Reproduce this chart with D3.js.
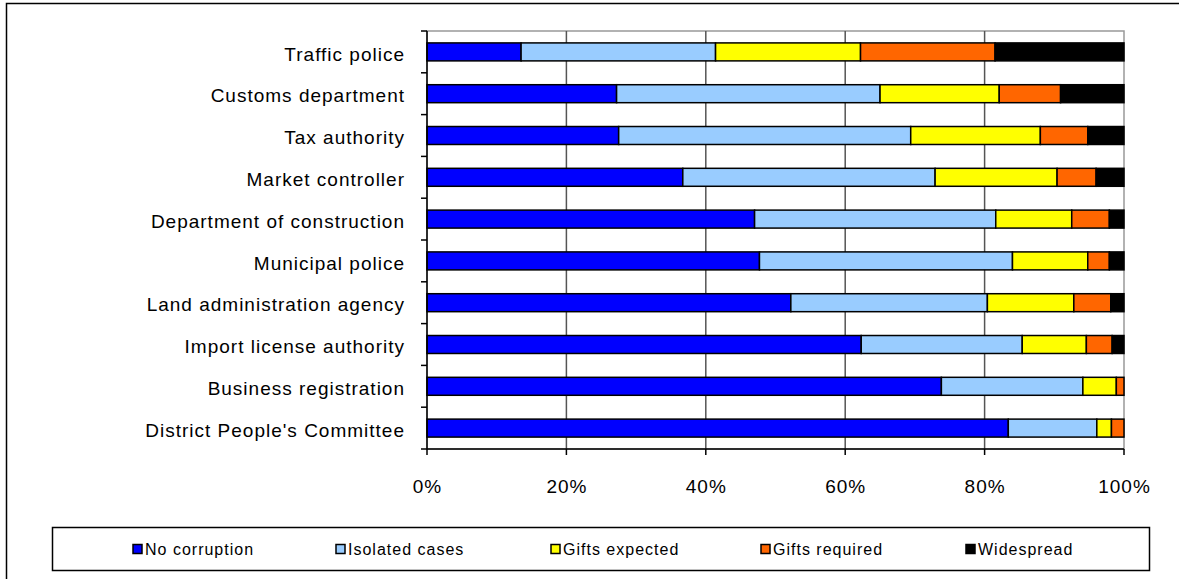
<!DOCTYPE html>
<html>
<head>
<meta charset="utf-8">
<script src="https://cdn.jsdelivr.net/npm/d3@7"></script>
<style>
body{margin:0;background:#fff;}
text{font-family:"Liberation Sans",Arial,sans-serif;fill:#000;}
</style>
</head>
<body>
<svg width="1179" height="579"></svg>
<script>
(()=>{

//data: categories top to bottom, shares in percent
let categories = ["Traffic police","Customs department","Tax authority","Market controller","Department of construction","Municipal police","Land administration agency","Import license authority","Business registration","District People's Committee"];
let series = ["No corruption","Isolated cases","Gifts expected","Gifts required","Widespread"];
let noCorruption  = [13.5,27.2,27.5,36.7,47.0,47.7,52.2,62.3,73.8,83.4];
let isolatedCases = [27.9,37.8,41.9,36.2,34.6,36.3,28.2,23.1,20.3,12.7];
let giftsExpected = [20.8,17.1,18.6,17.5,10.9,10.8,12.4,9.2,4.8,2.1];
let giftsRequired = [19.3,8.8,6.8,5.6,5.4,3.1,5.3,3.7,1.1,1.8];
let widespread    = [18.5,9.1,5.2,4.0,2.1,2.1,1.9,1.7,0,0];
let colors = ["#0000ff","#99ccff","#ffff00","#ff6600","#000000"];
let xTicks = [0,0.2,0.4,0.6,0.8,1];

let svg = d3.select("svg");

//outer frame (top and left edges visible)
svg.append("path")
	.attr("d","M6.5,579V3.5H1179")
	.attr("fill","none")
	.attr("stroke","#000")
	.attr("stroke-width",1.5);

let plot = {left:427, top:31, right:1124, bottom:449};

let rows = categories.map((c,i)=>{
	let vals = [noCorruption[i],isolatedCases[i],giftsExpected[i],giftsRequired[i],widespread[i]];
	let total = d3.sum(vals);
	let r = {cat:c};
	series.forEach((s,j)=>{ r[s] = vals[j]/total; });
	return r;
});
let stacked = d3.stack().keys(series)(rows);

let x = d3.scaleLinear().domain([0,1]).range([plot.left,plot.right]);
let y = d3.scaleBand().domain(categories).range([plot.top,plot.bottom]).paddingInner(0.57).paddingOuter(0.285);
let yb = d3.scaleBand().domain(categories).range([plot.top,plot.bottom]);

//plot area border
svg.append("rect")
	.attr("x",plot.left).attr("y",plot.top)
	.attr("width",plot.right-plot.left).attr("height",plot.bottom-plot.top)
	.attr("fill","#fff").attr("stroke","#999").attr("stroke-width",1.5);

//vertical gridlines
svg.selectAll(".grid")
	.data(xTicks.slice(1,-1))
	.enter().append("line")
	.attr("class","grid")
	.attr("x1",d=>x(d)).attr("x2",d=>x(d))
	.attr("y1",plot.top).attr("y2",plot.bottom)
	.attr("stroke","#555").attr("stroke-width",1.5);

//bars
svg.selectAll(".layer")
	.data(stacked)
	.enter().append("g")
	.attr("class","layer")
	.attr("fill",(d,i)=>colors[i])
	.selectAll("rect")
	.data(d=>d.filter(p=>p[1]-p[0]>0))
	.enter().append("rect")
	.attr("x",d=>x(d[0]))
	.attr("y",d=>y(d.data.cat))
	.attr("width",d=>x(d[1])-x(d[0]))
	.attr("height",y.bandwidth())
	.attr("stroke","#000")
	.attr("stroke-width",1.5);

//y axis
let yAxis = svg.append("g")
	.attr("transform","translate("+plot.left+",0)");
yAxis.append("line")
	.attr("x1",0).attr("x2",0).attr("y1",plot.top).attr("y2",plot.bottom)
	.attr("stroke","#000").attr("stroke-width",1.5);
yAxis.selectAll(".ytick")
	.data(categories.concat([null]))
	.enter().append("line")
	.attr("class","ytick")
	.attr("x1",-6).attr("x2",0)
	.attr("y1",(d,i)=>plot.top+i*yb.step()).attr("y2",(d,i)=>plot.top+i*yb.step())
	.attr("stroke","#000").attr("stroke-width",1.5);
yAxis.selectAll(".ylabel")
	.data(categories)
	.enter().append("text")
	.attr("class","ylabel")
	.attr("x",-22)
	.attr("y",d=>yb(d)+yb.bandwidth()/2+2)
	.attr("dy","0.35em")
	.attr("text-anchor","end")
	.attr("font-size","19px")
	.attr("letter-spacing","1px")
	.attr("fill","#111")
	.text(d=>d);

//x axis
let xAxis = svg.append("g")
	.attr("transform","translate(0,"+plot.bottom+")");
xAxis.append("line")
	.attr("x1",plot.left).attr("x2",plot.right)
	.attr("stroke","#000").attr("stroke-width",1.5);
xAxis.selectAll(".xtick")
	.data(xTicks)
	.enter().append("line")
	.attr("class","xtick")
	.attr("x1",d=>x(d)).attr("x2",d=>x(d))
	.attr("y1",0).attr("y2",6)
	.attr("stroke","#000").attr("stroke-width",1.5);
xAxis.selectAll(".xlabel")
	.data(xTicks)
	.enter().append("text")
	.attr("class","xlabel")
	.attr("x",d=>x(d)+0.5)
	.attr("y",37)
	.attr("dy","0.35em")
	.attr("text-anchor","middle")
	.attr("font-size","19px")
	.attr("letter-spacing","1px")
	.attr("fill","#111")
	.text(d3.format(".0%"));

//legend
let legend = svg.append("g");
legend.append("rect")
	.attr("x",52.5).attr("y",527.5).attr("width",1097).attr("height",43)
	.attr("fill","#fff").attr("stroke","#000").attr("stroke-width",1.5);
let legendX = [133,336,551,761,966];
let items = legend.selectAll(".item")
	.data(series)
	.enter().append("g")
	.attr("class","item")
	.attr("transform",(d,i)=>"translate("+legendX[i]+",549)");
items.append("rect")
	.attr("x",0).attr("y",-4.5).attr("width",9).attr("height",9)
	.attr("fill",(d,i)=>colors[i])
	.attr("stroke","#000").attr("stroke-width",1.5);
items.append("text")
	.attr("x",12)
	.attr("y",0)
	.attr("dy","0.35em")
	.attr("font-size","16px")
	.attr("letter-spacing","1px")
	.text(d=>d);

})();
</script>
</body>
</html>
